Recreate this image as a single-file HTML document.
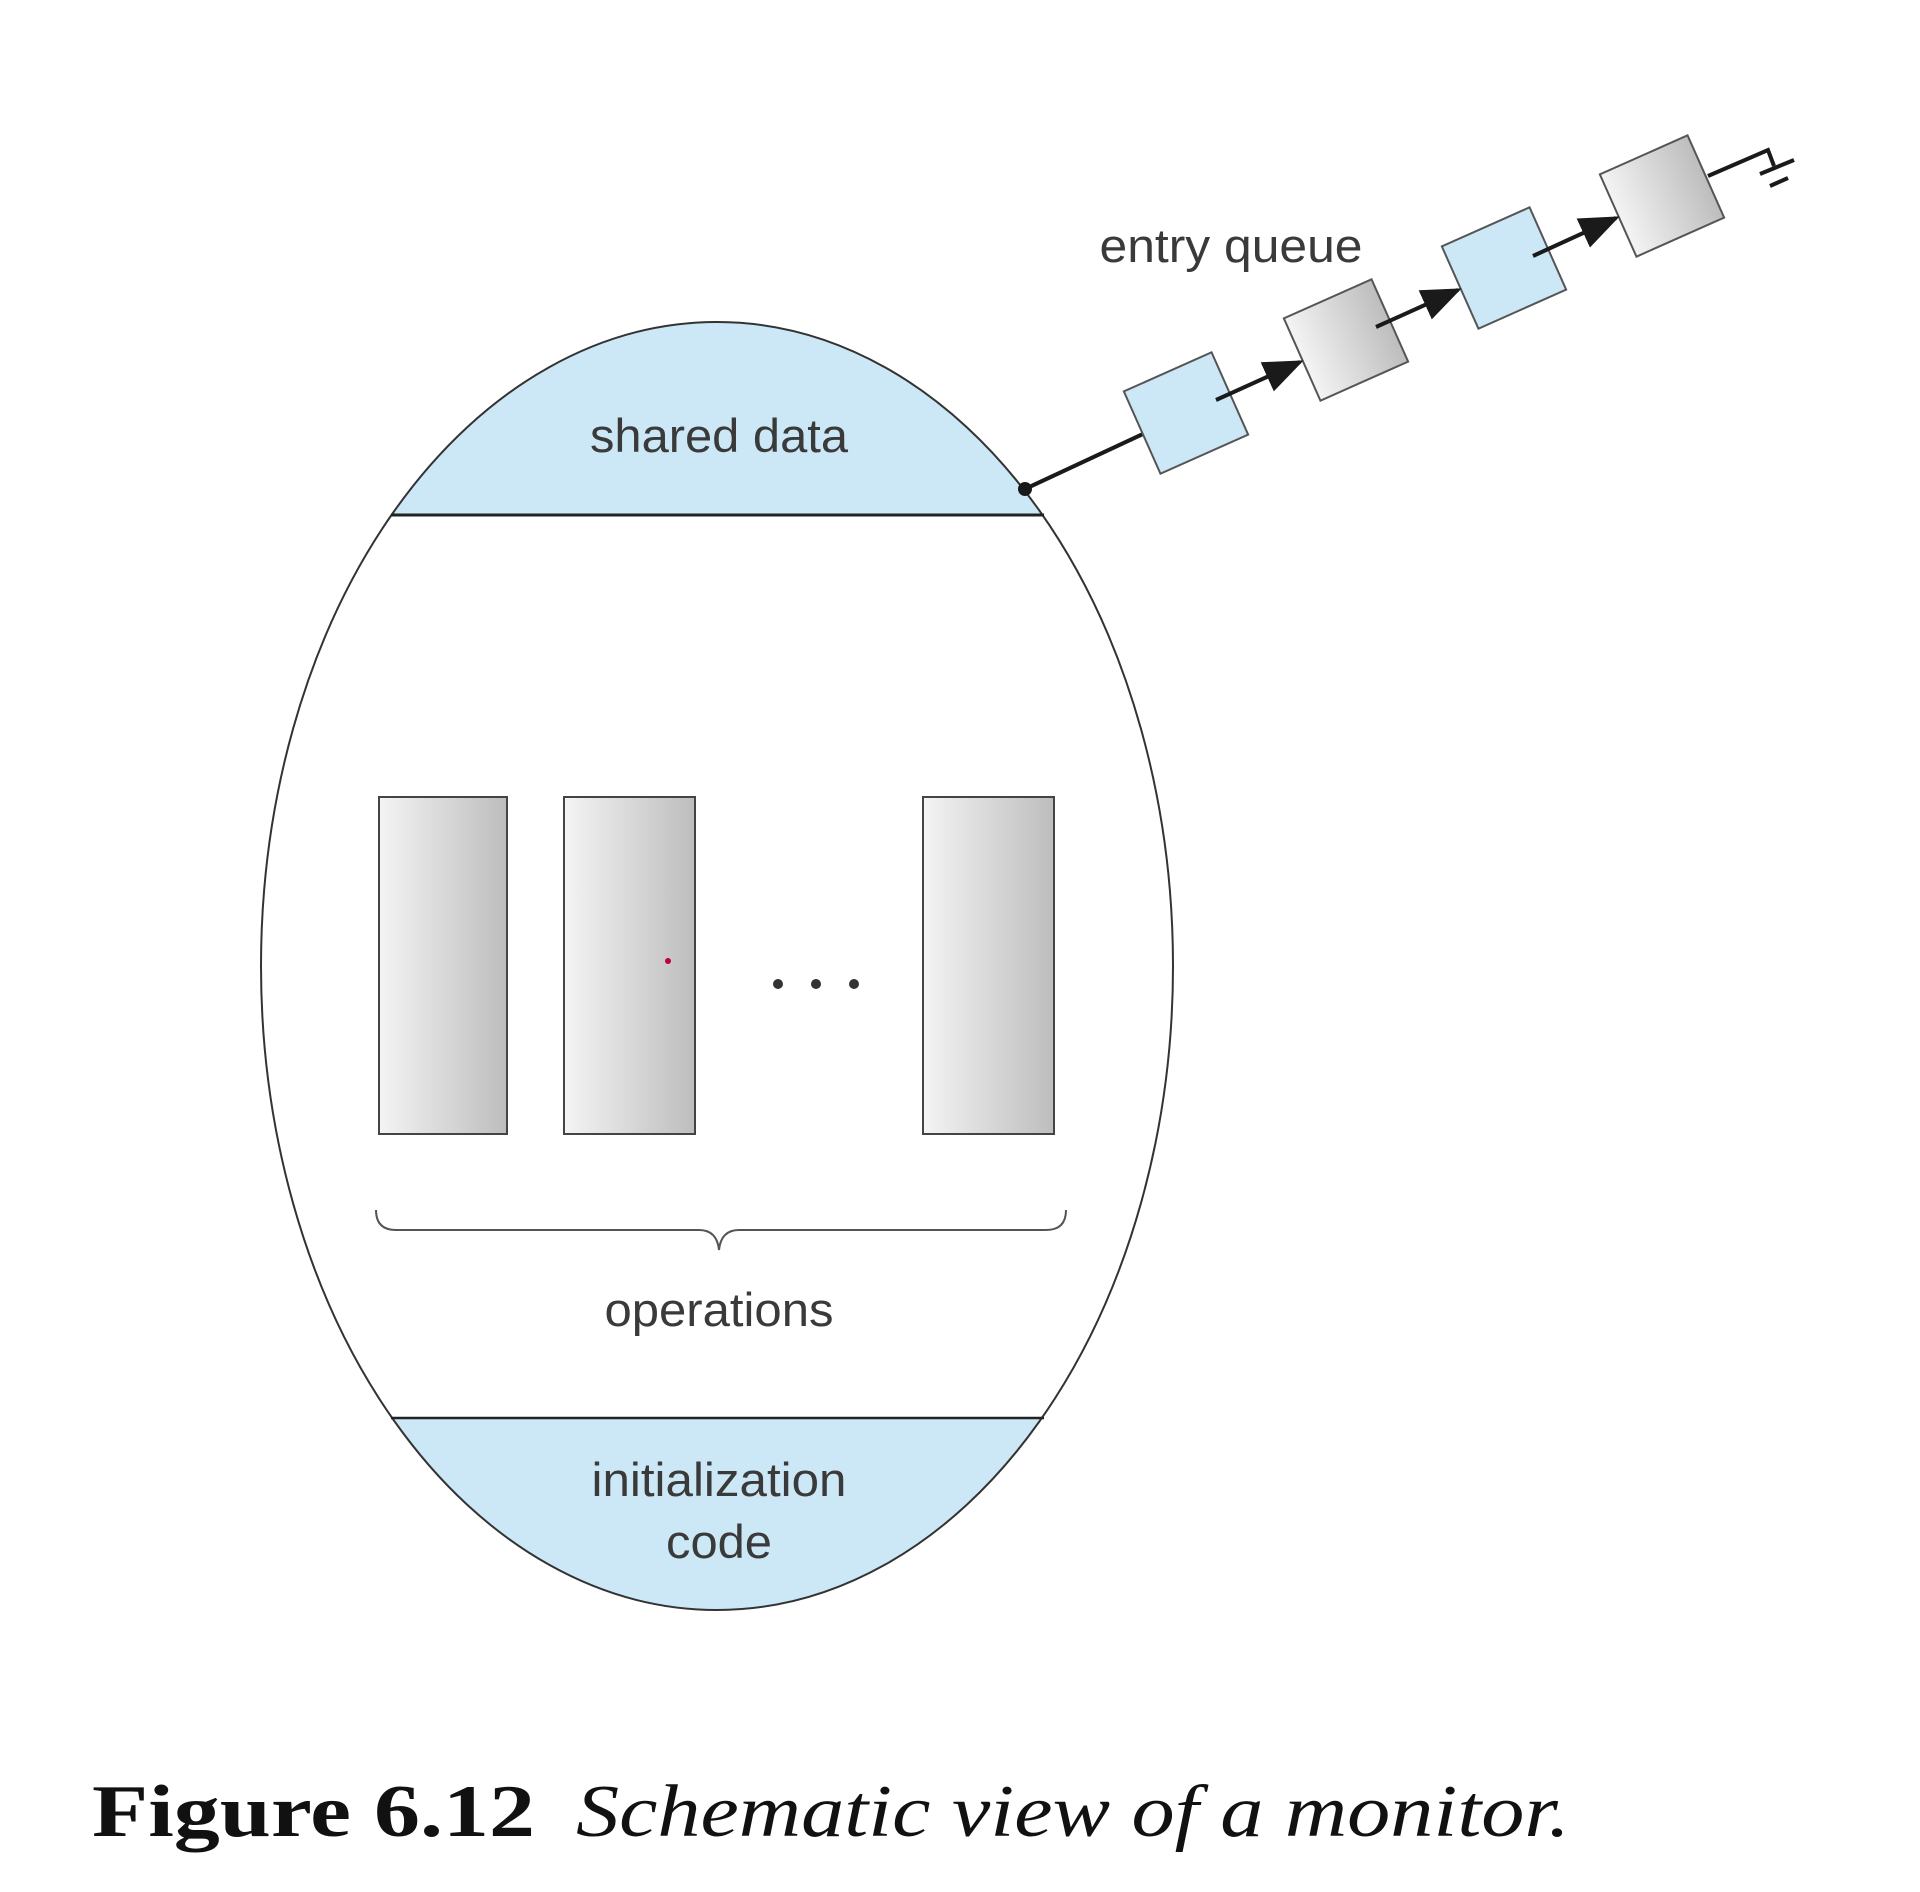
<!DOCTYPE html>
<html><head><meta charset="utf-8"><style>
html,body{margin:0;padding:0;background:#fff;}
svg{display:block;}
</style></head><body>
<svg width="1920" height="1892" viewBox="0 0 1920 1892" xmlns="http://www.w3.org/2000/svg">
<defs>
<clipPath id="ec"><ellipse cx="717" cy="966" rx="456" ry="644"/></clipPath>
<linearGradient id="g" x1="0" x2="1" y1="0" y2="0"><stop offset="0" stop-color="#f4f4f4"/><stop offset="1" stop-color="#bdbdbd"/></linearGradient>
<marker id="ar" markerWidth="10" markerHeight="8" refX="9" refY="4" orient="auto" markerUnits="strokeWidth"><path d="M0,0 L10,4 L0,8 z" fill="#1a1a1a"/></marker>
</defs>
<g clip-path="url(#ec)">
<rect x="200" y="300" width="1100" height="215" fill="#cce8f6"/>
<rect x="200" y="1418" width="1100" height="250" fill="#cce8f6"/>
</g>
<ellipse cx="717" cy="966" rx="456" ry="644" fill="none" stroke="#333" stroke-width="2"/>
<line x1="391" y1="515" x2="1044" y2="515" stroke="#222" stroke-width="3"/>
<line x1="391" y1="1418" x2="1044" y2="1418" stroke="#222" stroke-width="2.5"/>
<g font-family="Liberation Sans, sans-serif" font-size="47" fill="#3a3a3a" text-anchor="middle">
<text x="719" y="452" textLength="258" lengthAdjust="spacingAndGlyphs">shared data</text>
<text x="719" y="1326" textLength="229" lengthAdjust="spacingAndGlyphs">operations</text>
<text x="719" y="1496" textLength="255" lengthAdjust="spacingAndGlyphs">initialization</text>
<text x="719" y="1558" textLength="106" lengthAdjust="spacingAndGlyphs">code</text>
<text x="1231" y="262" textLength="263" lengthAdjust="spacingAndGlyphs">entry queue</text>
</g>
<g stroke="#444" stroke-width="2" fill="url(#g)">
<rect x="379" y="797" width="128" height="337"/>
<rect x="564" y="797" width="131" height="337"/>
<rect x="923" y="797" width="131" height="337"/>
</g>
<circle cx="668" cy="961" r="3" fill="#c0003c"/>
<g fill="#333"><circle cx="778" cy="984" r="5"/><circle cx="816" cy="984" r="5"/><circle cx="854" cy="984" r="5"/></g>
<path d="M376,1210 Q376,1230 396,1230 L699,1230 Q717,1230 719,1250 Q721,1230 739,1230 L1046,1230 Q1066,1230 1066,1210" fill="none" stroke="#555" stroke-width="2"/>
<circle cx="1025" cy="489" r="7" fill="#1a1a1a"/>
<line x1="1025" y1="489" x2="1188" y2="413" stroke="#1a1a1a" stroke-width="4"/>
<g stroke="#555" stroke-width="2">
<g transform="translate(1186,413) rotate(-24)"><rect x="-48" y="-45" width="96" height="90" fill="#cce8f6"/></g>
<g transform="translate(1346,340) rotate(-24)"><rect x="-48" y="-45" width="96" height="90" fill="url(#g)"/></g>
<g transform="translate(1504,268) rotate(-24)"><rect x="-48" y="-45" width="96" height="90" fill="#cce8f6"/></g>
<g transform="translate(1662,196) rotate(-24)"><rect x="-48" y="-45" width="96" height="90" fill="url(#g)"/></g>
</g>
<g stroke="#1a1a1a" stroke-width="4" marker-end="url(#ar)">
<line x1="1216" y1="400" x2="1300" y2="362"/>
<line x1="1376" y1="327" x2="1458" y2="290"/>
<line x1="1533" y1="256" x2="1616" y2="218"/>
</g>
<g stroke="#1a1a1a" stroke-width="4" fill="none">
<path d="M1708,176 L1768,150 L1774,166"/>
<line x1="1760" y1="174" x2="1794" y2="160"/>
<line x1="1770" y1="186" x2="1788" y2="178"/>
</g>
<text x="92" y="1836" font-family="Liberation Serif, serif" font-size="74" font-weight="bold" fill="#111" textLength="443" lengthAdjust="spacingAndGlyphs">Figure 6.12</text>
<text x="576" y="1836" font-family="Liberation Serif, serif" font-size="74" font-style="italic" fill="#111" textLength="994" lengthAdjust="spacingAndGlyphs">Schematic view of a monitor.</text>
</svg>
</body></html>
